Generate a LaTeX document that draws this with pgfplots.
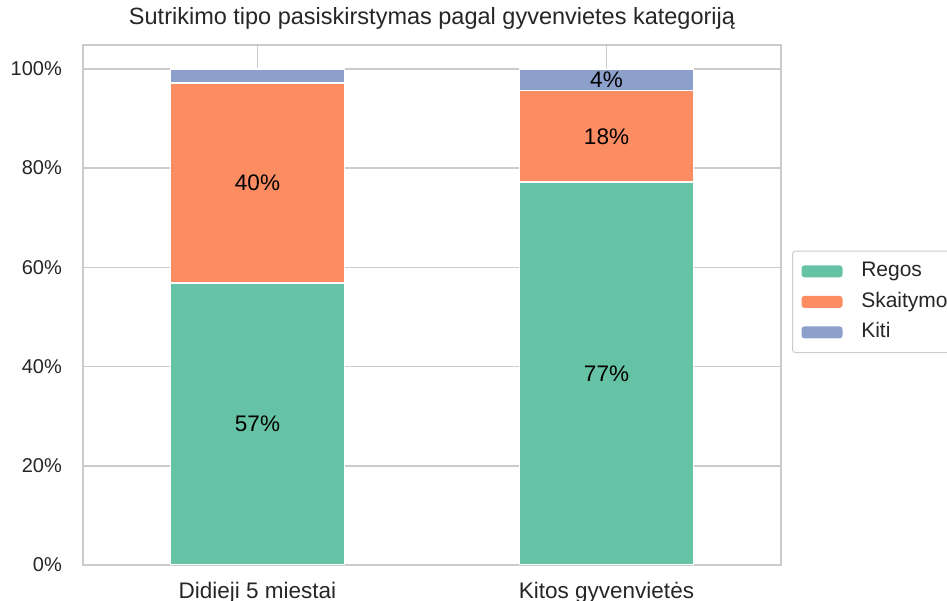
\documentclass[border=0pt]{standalone}
\usepackage{fontspec}
\setmainfont{Liberation Sans}
\usepackage{pgfplots}
\pgfplotsset{compat=1.18}
\definecolor{cA}{HTML}{66C2A5}
\definecolor{cB}{HTML}{FC8D62}
\definecolor{cC}{HTML}{8DA0CB}
\definecolor{gridc}{HTML}{CCCCCC}
\definecolor{txt}{HTML}{262626}
\newcommand{\yf}{\fontsize{20bp}{24bp}\selectfont}
\newcommand{\xf}{\fontsize{22.5bp}{27bp}\selectfont}
\newcommand{\tf}{\fontsize{23.5bp}{28bp}\selectfont}
\newcommand{\lf}{\fontsize{21bp}{25bp}\selectfont}
\begin{document}
\yf
\begin{tikzpicture}
\useasboundingbox (0,0) rectangle (947bp,601bp);
\clip (0,0) rectangle (947bp,601bp);
\begin{axis}[
  at={(83bp,36bp)}, anchor=south west, scale only axis,
  width=698bp, height=520bp,
  ybar stacked, bar width=174bp,
  xmin=-0.5, xmax=1.5, ymin=0, ymax=1.048,
  xtick={0,1}, xticklabels={Didieji 5 miestai, Kitos gyvenvietės},
  ytick={0,0.2,0.4,0.6,0.8,1},
  yticklabels={0\%,20\%,40\%,60\%,80\%,100\%},
  grid=major, major grid style={gridc, line width=1.5bp},
  axis line style={gridc, line width=1.5bp},
  major tick length=0pt,
  tick label style={text=txt},
  /pgf/number format/assume math mode=true,
  yticklabel style={font=\yf, inner sep=0pt, xshift=-21bp},
  xticklabel style={font=\xf, inner sep=0pt, yshift=-17bp},
  title={Sutrikimo tipo pasiskirstymas pagal gyvenvietes kategoriją},
  title style={at={(0.5,1)}, anchor=base, yshift=14.5bp, font=\tf, text=txt, inner sep=0pt},
  legend style={at={(1.0158,0.506)}, anchor=west, draw=gridc, line width=1bp,
    rounded corners=3bp, font=\lf, text=txt, inner xsep=9bp, inner ysep=10.5bp,
    row sep=11bp,
    nodes={inner sep=0pt, text height=15bp, text depth=4.5bp}},
  legend cell align=left,
  legend image code/.code={\fill[#1, draw=none] (0bp,-6bp) rectangle (41bp,6bp); \path (59bp,0bp);},
]
\addplot[fill=cA, draw=white, line width=1.5bp] coordinates {(0,0.568) (1,0.772)};
\addplot[fill=cB, draw=white, line width=1.5bp] coordinates {(0,0.403) (1,0.184)};
\addplot[fill=cC, draw=white, line width=1.5bp] coordinates {(0,0.029) (1,0.044)};
\legend{Regos, Skaitymo, Kiti}
\end{axis}
\begin{axis}[
  at={(83bp,36bp)}, anchor=south west, scale only axis,
  width=698bp, height=520bp,
  xmin=-0.5, xmax=1.5, ymin=0, ymax=1.048,
  hide axis, clip=false,
  /pgf/number format/assume math mode=true,
]
\addplot[draw=none, mark=none, nodes near coords={\pgfmathprintnumber{\pgfplotspointmeta}\%},
  point meta=explicit,
  every node near coord/.style={anchor=center, font=\xf, text=black, inner sep=0pt}]
  table[meta=m] {
x y m
0 0.284 57
0 0.770 40
1 0.386 77
1 0.864 18
1 0.978 4
};
\end{axis}
\end{tikzpicture}
\end{document}
